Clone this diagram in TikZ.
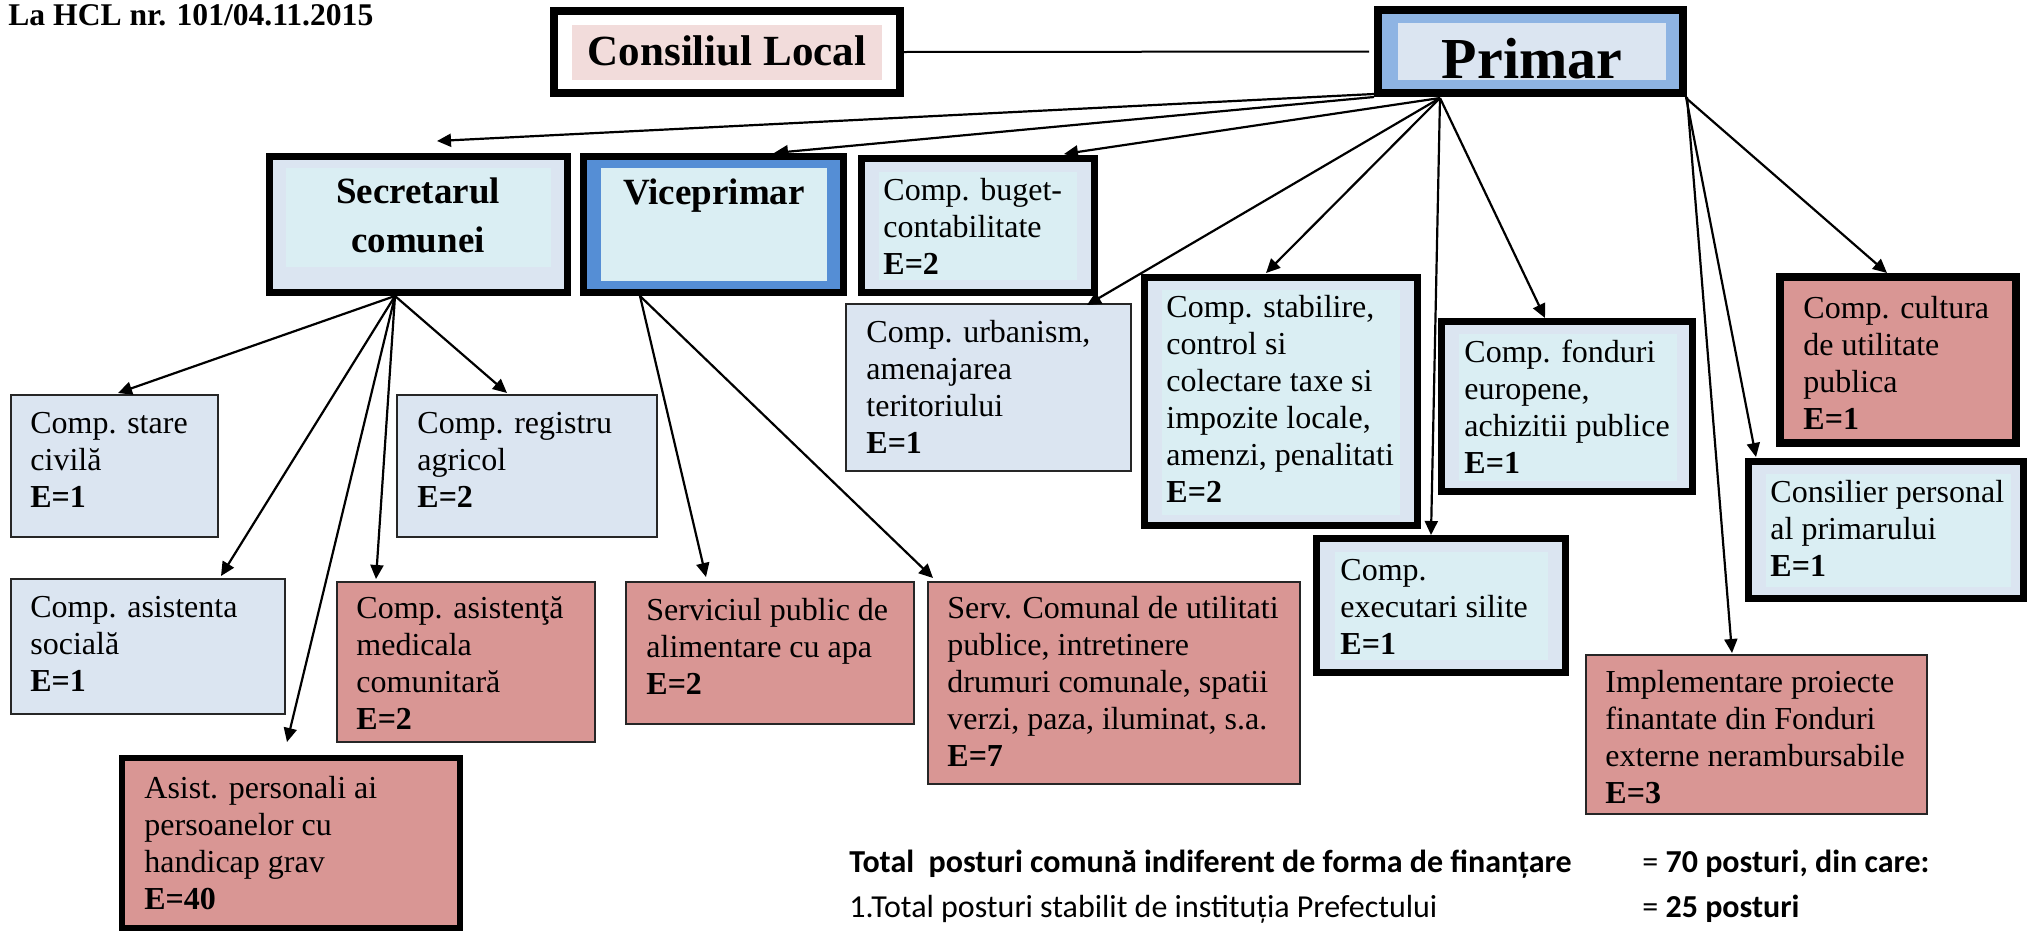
\documentclass[tikz,border=0pt]{standalone}
\usepackage{fontspec}
\setmainfont{Liberation Serif}
\newfontfamily\calib{Carlito}
\usetikzlibrary{arrows.meta,calc,fit}
\definecolor{bgray}{HTML}{DBE5F1}
\definecolor{cyanl}{HTML}{DAEEF3}
\definecolor{pinkl}{HTML}{F2DCDB}
\definecolor{redf}{HTML}{D99694}
\definecolor{blueA}{HTML}{8EB4E3}
\definecolor{blueB}{HTML}{558ED5}
\newcommand{\lns}[1]{\begin{tabular}[t]{@{}l@{}}#1\end{tabular}}
\newcommand{\mybox}[7]{\node[#2,fit={(#3+#7/2,#4+#7/2) (#5-#7/2,#6-#7/2)}] (#1) {};}
\begin{document}
\begin{tikzpicture}[x=0.5pt,y=-0.5pt,
  thickbox/.style={draw=black,line width=3.5pt,inner sep=0pt},
  thinbox/.style={draw=black!85,line width=1pt,inner sep=0pt},
  body/.style={anchor=base west,inner sep=0pt,font=\fontsize{16}{18.5}\selectfont},
  conn/.style={-{Triangle[length=7pt,width=6.5pt]},line width=1.1pt},
  hdr/.style={anchor=base,inner sep=0pt},
  tot/.style={anchor=base west,inner sep=0pt,font=\calib\fontsize{16}{19}\selectfont}]
\useasboundingbox (0,0) rectangle (2028,932);

\node[anchor=base west,inner sep=0pt,font=\bfseries\fontsize{15.8}{18}\selectfont] (hcl) at (8,25) {La HCL nr. 101/04.11.2015};

% Consiliul Local
\mybox{cl}{thickbox,line width=4pt,fill=white}{550}{7}{904}{97}{8}
\fill[pinkl] (572,25) rectangle (882,80);
\node[hdr,font=\bfseries\fontsize{21.5}{24}\selectfont] (clt) at (727,65) {Consiliul Local};

% Primar
\mybox{pr}{thickbox,line width=4pt,fill=blueA}{1374}{6}{1687}{97}{8}
\fill[bgray] (1398,23) rectangle (1666,80);
\node[hdr,font=\bfseries\fontsize{29}{32}\selectfont] (prt) at (1532,78) {Primar};

% Secretarul
\mybox{sec}{thickbox,fill=bgray}{266}{153}{571}{296}{7}
\fill[cyanl] (286,168) rectangle (551,267);
\node[hdr,font=\bfseries\fontsize{18.5}{24.5}\selectfont] (sect) at (418,203) {\begin{tabular}[t]{@{}c@{}}Secretarul\\comunei\end{tabular}};

% Viceprimar
\mybox{vp}{thickbox,fill=blueB}{580}{153}{847}{296}{7}
\fill[cyanl] (601,168) rectangle (827,281);
\node[hdr,font=\bfseries\fontsize{18.5}{24.5}\selectfont] (vpt) at (714,204) {Viceprimar};

% Buget
\mybox{bg}{thickbox,fill=bgray}{858}{155}{1098}{296}{7}
\fill[cyanl] (879,172) rectangle (1077,280);
\node[body] (bgt) at (883,200) {\lns{Comp. buget-\\contabilitate\\\textbf{E=2}}};

% Urbanism
\mybox{ur}{thinbox,fill=bgray}{845}{303}{1132}{472}{2}
\node[body] (urt) at (866,342) {\lns{Comp. urbanism,\\amenajarea\\teritoriului\\\textbf{E=1}}};

% Stabilire
\mybox{st}{thickbox,fill=bgray}{1141}{274}{1421}{529}{7}
\fill[cyanl] (1162,290) rectangle (1400,515);
\node[body] (stt) at (1166,317) {\lns{Comp. stabilire,\\control si\\colectare taxe si\\impozite locale,\\amenzi, penalitati\\\textbf{E=2}}};

% Fonduri
\mybox{fd}{thickbox,fill=bgray}{1438}{318}{1696}{495}{7}
\fill[cyanl] (1459,334) rectangle (1677,481);
\node[body] (fdt) at (1464,362) {\lns{Comp. fonduri\\europene,\\achizitii publice\\\textbf{E=1}}};

% Cultura
\mybox{cu}{thickbox,line width=4pt,fill=redf}{1776}{273}{2020}{447}{8}
\node[body] (cut) at (1803,318) {\lns{Comp. cultura\\de utilitate\\publica\\\textbf{E=1}}};

% Consilier
\mybox{cp}{thickbox,fill=bgray}{1745}{458}{2027}{602}{7}
\fill[cyanl] (1766,474) rectangle (2011,587);
\node[body] (cpt) at (1770,502) {\lns{Consilier personal\\al primarului\\\textbf{E=1}}};

% Executari
\mybox{ex}{thickbox,fill=bgray}{1313}{535}{1569}{676}{7}
\fill[cyanl] (1335,552) rectangle (1548,660);
\node[body] (ext) at (1340,580) {\lns{Comp.\\executari silite\\\textbf{E=1}}};

% Implementare
\mybox{im}{thinbox,fill=redf}{1585}{654}{1928}{815}{2}
\node[body] (imt) at (1605,692) {\lns{Implementare proiecte\\finantate din Fonduri\\externe nerambursabile\\\textbf{E=3}}};

% Serv. Comunal
\mybox{sc}{thinbox,fill=redf}{927}{581}{1301}{785}{2}
\node[body] (sct) at (947,618) {\lns{Serv. Comunal de utilitati\\publice, intretinere\\drumuri comunale, spatii\\verzi, paza, iluminat, s.a.\\\textbf{E=7}}};

% Serviciul public
\mybox{sp}{thinbox,fill=redf}{625}{581}{915}{725}{2}
\node[body] (spt) at (646,620) {\lns{Serviciul public de\\alimentare cu apa\\\textbf{E=2}}};

% Stare civila
\mybox{sa}{thinbox,fill=bgray}{10}{394}{219}{538}{2}
\node[body] (sat) at (30,433) {\lns{Comp. stare\\civilă\\\textbf{E=1}}};

% Registru agricol
\mybox{rg}{thinbox,fill=bgray}{396}{394}{658}{538}{2}
\node[body] (rgt) at (417,433) {\lns{Comp. registru\\agricol\\\textbf{E=2}}};

% Asistenta sociala
\mybox{as}{thinbox,fill=bgray}{10}{578}{286}{715}{2}
\node[body] (ast) at (30,617) {\lns{Comp. asistenta\\socială\\\textbf{E=1}}};

% Asistenta medicala
\mybox{md}{thinbox,fill=redf}{336}{581}{596}{743}{2}
\node[body] (mdt) at (356,618) {\lns{Comp. asistenţă\\medicala\\comunitară\\\textbf{E=2}}};

% Asist. personali
\mybox{ap}{thickbox,line width=3pt,fill=redf}{119}{755}{463}{931}{6}
\node[body] (apt) at (144,798) {\lns{Asist. personali ai\\persoanelor cu\\handicap grav\\\textbf{E=40}}};

% Totals
\node[tot,font=\calib\bfseries\fontsize{16}{19}\selectfont] (t1) at (849,872) {Total\ \ posturi comună indiferent de forma de finanțare};
\node[tot] (t1v) at (1642,872) {= \textbf{70 posturi, din care:}};
\node[tot] (t2) at (849,917) {1.Total posturi stabilit de instituția Prefectului};
\node[tot] (t2v) at (1642,917) {= \textbf{25 posturi}};

% Connectors
\draw[line width=1pt,shorten >=2.5pt] (cl.east) -- (pr.west);
\draw[conn] ($(pr.south west)+(0,-3)$) -- ($(sec.north west)+(171,-12)$);
\draw[conn] (pr.south west) -- ($(vp.north west)+(194,0)$);
\draw[conn] ($(pr.south west)+(66,1)$) -- ($(bg.north west)+(206,-1)$);
\draw[conn] ($(pr.south west)+(66,1)$) -- ($(ur.north west)+(242,2)$);
\draw[conn] ($(pr.south west)+(66,1)$) -- ($(st.north west)+(125,-1)$);
\draw[conn] ($(pr.south west)+(66,1)$) -- ($(ex.north west)+(118,0)$);
\draw[conn] ($(pr.south west)+(66,1)$) -- ($(fd.north west)+(107,0)$);
\draw[conn] (pr.south east) -- ($(im.north west)+(147,-1)$);
\draw[conn] ($(pr.south east)+(-1,0)$) -- ($(cp.north west)+(11,-1)$);
\draw[conn] ($(pr.south east)+(-1,1)$) -- ($(cu.north west)+(111,0)$);

\draw[conn] ($(sec.south west)+(129,0)$) -- ($(sa.north west)+(108,-1)$);
\draw[conn] ($(sec.south west)+(129,0)$) -- ($(rg.north west)+(111,-1)$);
\draw[conn] ($(sec.south west)+(129,0)$) -- ($(as.north west)+(211,-2)$);
\draw[conn] ($(sec.south west)+(129,0)$) -- ($(ap.north west)+(168,-13)$);
\draw[conn] ($(sec.south west)+(129,0)$) -- ($(md.north west)+(40,-2)$);

\draw[conn] ($(vp.south west)+(60,0)$) -- ($(sp.north west)+(81,-4)$);
\draw[conn] ($(vp.south west)+(60,0)$) -- ($(sc.north west)+(6,-3)$);
\end{tikzpicture}
\end{document}
